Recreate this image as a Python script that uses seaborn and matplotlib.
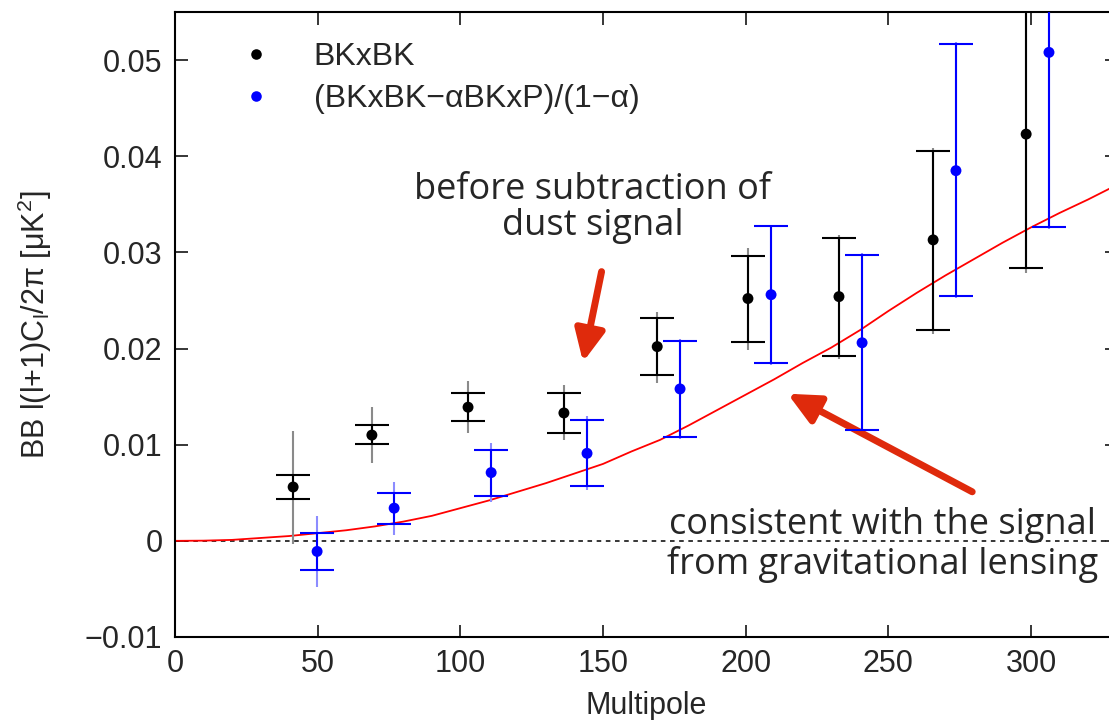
import numpy as np
import matplotlib
matplotlib.use("Agg")
import matplotlib.pyplot as plt
import seaborn as sns
from matplotlib.lines import Line2D

# ---- data ----
bk_x = [41.4, 69.0, 102.7, 136.3, 169.0, 200.8, 232.7, 265.7, 298.3]
bk_y = [0.0056, 0.0110, 0.0139, 0.0133, 0.0202, 0.0252, 0.0254, 0.0313, 0.0423]
bk_cap_lo = [0.0044, 0.0101, 0.0125, 0.0112, 0.0172, 0.0207, 0.0192, 0.0219, 0.0284]
bk_cap_hi = [0.0068, 0.0121, 0.0154, 0.0154, 0.0232, 0.0296, 0.0315, 0.0405, 0.0562]
bk_full_lo = [-0.0003, 0.0081, 0.0112, 0.0105, 0.0164, 0.0199, 0.0189, 0.0215, 0.0279]
bk_full_hi = [0.0114, 0.0139, 0.0166, 0.0162, 0.0238, 0.0305, 0.0318, 0.0409, 0.0567]

bl_x = [49.8, 76.8, 110.8, 144.4, 177.0, 208.9, 240.8, 273.7, 306.3]
bl_y = [-0.0011, 0.0034, 0.0071, 0.0091, 0.0158, 0.0256, 0.0206, 0.0385, 0.0508]
bl_cap_lo = [-0.0030, 0.0018, 0.0047, 0.0057, 0.0108, 0.0185, 0.0115, 0.0255, 0.0326]
bl_cap_hi = [0.0008, 0.0050, 0.0094, 0.0126, 0.0208, 0.0327, 0.0297, 0.0517, 0.0690]
bl_full_lo = [-0.0048, 0.0006, 0.0040, 0.0053, 0.0106, 0.0183, 0.0113, 0.0253, 0.0324]
bl_full_hi = [0.0026, 0.0061, 0.0102, 0.0130, 0.0210, 0.0329, 0.0299, 0.0519, 0.0692]

lens_x = [0, 10, 20, 30, 40, 50, 60, 70, 80, 90, 100, 110, 120, 130, 140, 150, 160,
          170, 180, 190, 200, 210, 220, 230, 240, 250, 260, 270, 280, 290, 300, 310, 320, 330]
lens_y = [0.0, 0.00002, 0.0001, 0.0003, 0.0005, 0.0008, 0.0011, 0.0015, 0.0020, 0.0026,
          0.0034, 0.0042, 0.0051, 0.0060, 0.0070, 0.0080, 0.0093, 0.0105, 0.0120, 0.0136,
          0.0152, 0.0168, 0.0185, 0.0201, 0.0219, 0.0239, 0.0258, 0.0276, 0.0293, 0.0310,
          0.0326, 0.0341, 0.0355, 0.0370]

xticks = [0, 50, 100, 150, 200, 250, 300]
yticks = [-0.01, 0, 0.01, 0.02, 0.03, 0.04, 0.05]
ytick_labels = ["\u22120.01", "0", "0.01", "0.02", "0.03", "0.04", "0.05"]

legend_labels = ["BKxBK", "(BKxBK\u2212\u03b1BKxP)/(1\u2212\u03b1)"]
note1 = "before subtraction of\ndust signal"
note2 = "consistent with the signal\nfrom gravitational lensing"

# ---- style ----
sns.set_style("ticks")
plt.rcParams['font.family'] = ['Liberation Sans', 'DejaVu Sans']
plt.rcParams['mathtext.fontset'] = 'custom'
plt.rcParams['mathtext.rm'] = 'Liberation Sans'
plt.rcParams['mathtext.it'] = 'Liberation Sans'

fig = plt.figure(figsize=(11.09, 7.2), dpi=100)
ax = fig.add_axes([175 / 1109, 83 / 720, 941.6 / 1109, 625 / 720])
ax.set_xlim(0, 330)
ax.set_ylim(-0.01, 0.055)

# lensing curve
sns.lineplot(x=lens_x, y=lens_y, ax=ax, color=(1, 0, 0), lw=1.3, zorder=2)
ax.axhline(0, color="k", lw=1.1, ls=(0, (3, 3)), zorder=1)

def draw_series(x, y, clo, chi, flo, fhi, dark, light):
    y = np.array(y)
    ax.errorbar(x, y, yerr=[y - np.array(flo), np.array(fhi) - y], fmt="none",
                ecolor=light, elinewidth=1.5, capsize=0, zorder=3)
    ax.errorbar(x, y, yerr=[y - np.array(clo), np.array(chi) - y], fmt="none",
                ecolor=dark, elinewidth=1.5, capsize=12, capthick=1.5, zorder=4)

draw_series(bk_x, bk_y, bk_cap_lo, bk_cap_hi, bk_full_lo, bk_full_hi, "k", "#8a8a8a")
draw_series(bl_x, bl_y, bl_cap_lo, bl_cap_hi, bl_full_lo, bl_full_hi, (0, 0, 1), "#8c8cff")

sns.scatterplot(x=bk_x, y=bk_y, ax=ax, color="k", s=62, edgecolor="none", zorder=5)
sns.scatterplot(x=bl_x, y=bl_y, ax=ax, color=(0, 0, 1), s=62, edgecolor="none", zorder=5)

# legend
handles = [Line2D([], [], ls="none", marker="o", ms=7.6, color="k", mec="none"),
           Line2D([], [], ls="none", marker="o", ms=7.6, color=(0, 0, 1), mec="none")]
leg = ax.legend(handles, legend_labels, loc="upper left", frameon=False, fontsize=23,
                bbox_to_anchor=(0.037, 1.0), handlelength=1.0, handletextpad=1.3,
                labelspacing=0.37, borderaxespad=0.55)

# axes formatting
ax.set_xticks(xticks)
ax.set_yticks(yticks)
ax.set_yticklabels(ytick_labels)
ax.tick_params(direction="in", length=9, width=1.3, top=True, right=True,
               labelsize=22, pad=9)
for s in ax.spines.values():
    s.set_linewidth(1.5)
    s.set_color("k")
ax.set_xlabel("Multipole", fontsize=22, labelpad=8)
ax.set_ylabel(r"BB l(l+1)C$_\mathregular{l}$/2$\pi$ [$\mu$K$^\mathregular{2}$]", fontsize=22,
              labelpad=22)

# annotations
arrow_col = "#df2a0c"
ax.text(146.3, 0.0346, note1, ha="center", va="center", fontsize=26,
        family=["Open Sans", "DejaVu Sans"], linespacing=1.0)
ax.annotate("", xy=(143.0, 0.0186), xytext=(149.5, 0.0280),
            arrowprops=dict(arrowstyle="-|>,head_length=1.9,head_width=0.9",
                            color=arrow_col, lw=5, shrinkA=0, shrinkB=0))
ax.text(248.0, -0.0004, note2, ha="center", va="center", fontsize=26,
        family=["Open Sans", "DejaVu Sans"], linespacing=1.12)
ax.annotate("", xy=(214.7, 0.0153), xytext=(279.4, 0.0051),
            arrowprops=dict(arrowstyle="-|>,head_length=1.9,head_width=0.9",
                            color=arrow_col, lw=5, shrinkA=0, shrinkB=0))

fig.savefig("out.png", dpi=100)
